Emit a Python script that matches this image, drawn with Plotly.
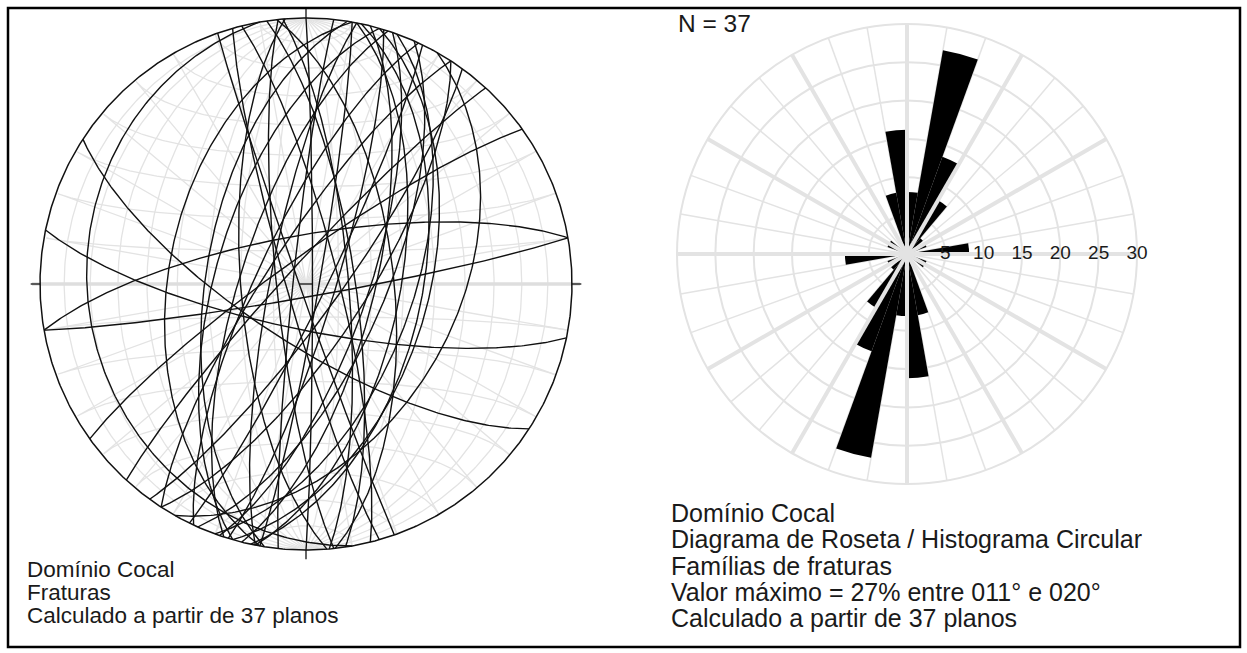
import numpy as np
import plotly.graph_objects as go

W, H = 1247, 653

# ---------------- data ----------------
# Stereonet: fracture planes, strike (right-hand rule, degrees) and dip (degrees)
plane_strikes = [170, 190, 189, 196, 198, 205, 191, 174, 186, 160.6,
                 0, 10, 17, 355, 351.5, 19, 14, 353.7, 11, 20,
                 12, 16, 29.5, 123, 101.7, 260, 80, 234.4, 222.5, 346,
                 26, 24, 213, 33, 36, 175.5, 164]
plane_dips = [19, 47, 59, 62, 70, 75, 79, 81, 86, 88,
              88, 86, 81, 77, 75, 71, 69, 63, 61, 57,
              54, 52, 43, 72, 76, 75, 86, 82, 84, 80,
              84, 66, 78, 72, 80, 70, 84]

# Rose diagram: 10-degree bins (start azimuth), percentage of planes
rose_bin_start = list(range(0, 360, 10))
rose_percent = [8.1, 27.0, 13.5, 8.1, 2.7, 0, 2.7, 0, 8.1, 0, 0, 2.7, 2.7, 0, 0, 0, 8.1, 16.2,
                8.1, 27.0, 13.5, 8.1, 2.7, 0, 2.7, 0, 8.1, 0, 0, 2.7, 2.7, 0, 0, 0, 8.1, 16.2]
rose_ticks = [5, 10, 15, 20, 25, 30]

left_text = ["Domínio Cocal", "Fraturas", "Calculado a partir de 37 planos"]
right_text = ["Domínio Cocal", "Diagrama de Roseta / Histograma Circular",
              "Famílias de fraturas", "Valor máximo = 27% entre 011° e 020°",
              "Calculado a partir de 37 planos"]
n_label = "N = 37"

FONT = "Liberation Sans, Arial, sans-serif"
GRID = "#e3e3e3"

# ---------------- projection helpers (equal-area, lower hemisphere) ----------------
def project(v):
    v = np.asarray(v, dtype=float)
    vx, vy, vz = v[:, 0], v[:, 1], v[:, 2]
    sgn = np.where(vz > 0, -1.0, 1.0)
    vx, vy, vz = vx * sgn, vy * sgn, vz * sgn
    h = np.hypot(vx, vy)
    r = np.sqrt(np.clip(1 + vz, 0, None))
    hs = np.where(h > 1e-12, h, 1.0)
    x = np.where(h > 1e-12, r * vx / hs, 0.0)
    y = np.where(h > 1e-12, r * vy / hs, 0.0)
    return x, y


def great_circle(strike, dip, n=241):
    s = np.radians(strike)
    d = np.radians(dip)
    a = np.array([np.sin(s), np.cos(s), 0.0])
    dd = s + np.pi / 2
    b = np.array([np.sin(dd) * np.cos(d), np.cos(dd) * np.cos(d), -np.sin(d)])
    th = np.linspace(0, np.pi, n)
    v = np.outer(np.cos(th), a) + np.outer(np.sin(th), b)
    return project(v)


def small_circle_ns(alpha, north=True, n=181):
    al = np.radians(alpha)
    axis = np.array([0.0, 1.0 if north else -1.0, 0.0])
    phi = np.linspace(np.pi, 2 * np.pi, n)
    v = (np.cos(al) * axis[None, :]
         + np.sin(al) * (np.outer(np.cos(phi), [1.0, 0, 0]) + np.outer(np.sin(phi), [0, 0, 1.0])))
    return project(v)


def join(curves):
    xs, ys = [], []
    for x, y in curves:
        xs += list(x) + [None]
        ys += list(y) + [None]
    return xs, ys

# ---------------- figure ----------------
fig = go.Figure()

# Net grid (Schmidt net, 10 degree)
grid_curves = []
for d in range(10, 90, 10):
    grid_curves.append(great_circle(0, d))
    grid_curves.append(great_circle(180, d))
for a in range(10, 90, 10):
    grid_curves.append(small_circle_ns(a, True))
    grid_curves.append(small_circle_ns(a, False))
gx, gy = join(grid_curves)
fig.add_trace(go.Scatter(x=gx, y=gy, mode="lines", line=dict(color=GRID, width=1.3),
                         hoverinfo="skip", xaxis="x", yaxis="y"))
# E-W diameter (thicker)
fig.add_trace(go.Scatter(x=[-1.03, 1.03], y=[0, 0], mode="lines",
                         line=dict(color="#dedede", width=3.5), hoverinfo="skip"))

# Fracture great circles
pc = [great_circle(s, d) for s, d in zip(plane_strikes, plane_dips)]
px_, py_ = join(pc)
fig.add_trace(go.Scatter(x=px_, y=py_, mode="lines", line=dict(color="#111111", width=1.4),
                         hoverinfo="skip"))

# Primitive circle
t = np.linspace(0, 2 * np.pi, 721)
fig.add_trace(go.Scatter(x=np.sin(t), y=np.cos(t), mode="lines",
                         line=dict(color="#111111", width=1.5), hoverinfo="skip"))
# small ticks at N, S, E, W and centre
tx = [0, 0, None, 0, 0, None, -1.035, -1.0, None, 1.0, 1.035, None, -0.025, 0.025]
ty = [1.0, 1.035, None, -1.0, -1.035, None, 0, 0, None, 0, 0, None, 0, 0]
fig.add_trace(go.Scatter(x=tx, y=ty, mode="lines", line=dict(color="#111111", width=1.3),
                         hoverinfo="skip"))

# ---------------- rose diagram ----------------
spoke_t, spoke_r = [], []
for a in range(0, 360, 30):
    spoke_t += [a, a, None]
    spoke_r += [0, 30, None]
fig.add_trace(go.Scatterpolar(theta=spoke_t, r=spoke_r, mode="lines",
                              line=dict(color=GRID, width=4), hoverinfo="skip",
                              subplot="polar"))
fig.add_trace(go.Scatterpolar(theta=[90] * len(rose_ticks), r=rose_ticks, mode="text",
                              text=[str(v) for v in rose_ticks], textposition="middle center",
                              textfont=dict(family=FONT, size=19, color="#1a1a1a"),
                              cliponaxis=False, hoverinfo="skip", subplot="polar"))
fig.add_trace(go.Barpolar(theta=[b + 5 for b in rose_bin_start], r=rose_percent, width=10,
                          marker=dict(color="#000000", line=dict(width=0)),
                          hoverinfo="skip", subplot="polar"))

# ---------------- layout ----------------
cxL, cyL, RL = 306, 284, 266          # net centre / radius in px
hx, hy = 286, 276
cxR, cyR, RR = 907, 254, 230          # rose centre / radius in px

fig.update_layout(
    width=W, height=H, margin=dict(l=0, r=0, t=0, b=0),
    paper_bgcolor="white", plot_bgcolor="rgba(0,0,0,0)", showlegend=False,
    xaxis=dict(domain=[(cxL - hx) / W, (cxL + hx) / W], range=[-hx / RL, hx / RL],
               visible=False, fixedrange=True),
    yaxis=dict(domain=[(H - cyL - hy) / H, (H - cyL + hy) / H], range=[-hy / RL, hy / RL],
               visible=False, fixedrange=True),
    polar=dict(
        domain=dict(x=[(cxR - RR) / W, (cxR + RR) / W], y=[(H - cyR - RR) / H, (H - cyR + RR) / H]),
        bgcolor="rgba(0,0,0,0)",
        angularaxis=dict(direction="clockwise", rotation=90, dtick=10, showgrid=True,
                         gridcolor=GRID, gridwidth=1.5, showticklabels=False, ticks="",
                         showline=True, linecolor=GRID, linewidth=2, layer="below traces"),
        radialaxis=dict(range=[0, 30], dtick=5, showgrid=True, gridcolor=GRID, gridwidth=2,
                        showticklabels=False, ticks="", showline=False, layer="below traces"),
    ),
    shapes=[dict(type="rect", xref="paper", yref="paper",
                 x0=8 / W, x1=1240 / W, y0=1 - 647 / H, y1=1 - 8 / H,
                 line=dict(color="black", width=2.5))],
)

ann = []
for i, s in enumerate(left_text):
    ann.append(dict(text=s, x=25 / W, y=1 - (569 + 23 * i) / H, xref="paper", yref="paper",
                    xanchor="left", yanchor="middle", showarrow=False,
                    font=dict(family=FONT, size=22.5, color="#1a1a1a")))
for i, s in enumerate(right_text):
    ann.append(dict(text=s, x=669 / W, y=1 - (513 + 26.3 * i) / H, xref="paper", yref="paper",
                    xanchor="left", yanchor="middle", showarrow=False,
                    font=dict(family=FONT, size=25, color="#1a1a1a")))
ann.append(dict(text=n_label, x=676 / W, y=1 - 24 / H, xref="paper", yref="paper",
                xanchor="left", yanchor="middle", showarrow=False,
                font=dict(family=FONT, size=24.5, color="#1a1a1a")))
fig.update_layout(annotations=ann)

fig.write_html("out.html", config={"displayModeBar": False, "staticPlot": True},
               post_script="document.body.style.margin='0px';")
